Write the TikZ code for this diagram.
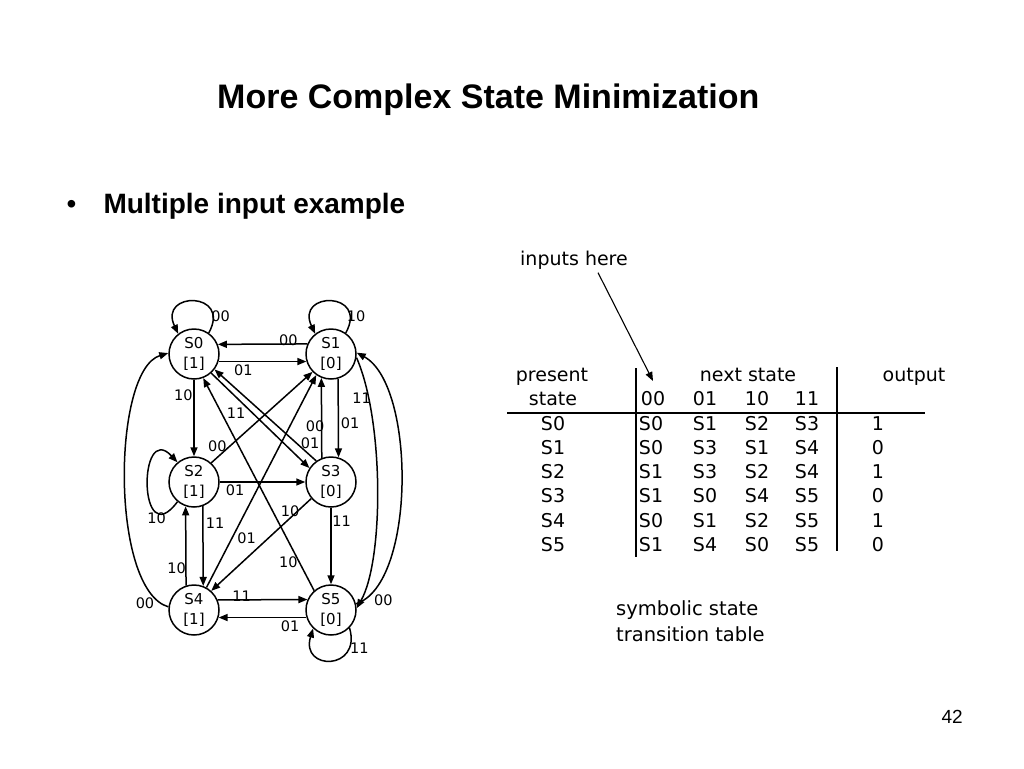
\documentclass[tikz,border=0pt]{standalone}
\usepackage{fontspec}
\setmainfont{DejaVu Sans}
\newfontfamily\arialfont{Liberation Sans}
\usetikzlibrary{arrows.meta,calc}
\begin{document}
\begin{tikzpicture}[x=1pt,y=-1pt,
  stnode/.style={draw,circle,line width=1.5pt,minimum size=50pt,inner sep=0pt,align=center,font=\fontsize{15}{19.5}\selectfont},
  lbl/.style={inner sep=0pt,font=\fontsize{14.5}{17}\selectfont},
  trans/.style={line width=1.5pt,-{Triangle[length=9pt,width=7pt]}},
  thinarrow/.style={line width=1.1pt,-{Triangle[length=9pt,width=7pt]}},
  tabtxt/.style={anchor=base,inner sep=0pt,font=\fontsize{19}{23}\selectfont},
  tabrule/.style={line width=2.7pt}]
\useasboundingbox (0,0) rectangle (1024,768);
\fill[white] (0,0) rectangle (1024,768);

% title and bullet
\node[anchor=base west,inner sep=0pt] (title) at (217,108.3) {\arialfont\bfseries\fontsize{34}{40}\selectfont More Complex State Minimization};
\node[anchor=base,inner sep=0pt] (bul) at (71.5,213.3) {\arialfont\fontsize{28}{32}\selectfont •};
\node[anchor=base west,inner sep=0pt] (btxt) at (103.3,213.3) {\arialfont\bfseries\fontsize{28}{32}\selectfont Multiple input example};

% states
\node[stnode] (S0) at (194,354) {S0\\{[1]}};
\node[stnode] (S1) at (331,354) {S1\\{[0]}};
\node[stnode] (S2) at (194,482) {S2\\{[1]}};
\node[stnode] (S3) at (331,482) {S3\\{[0]}};
\node[stnode] (S4) at (194,610) {S4\\{[1]}};
\node[stnode] (S5) at (331,610) {S5\\{[0]}};

% self loops
\draw[trans] (S0.55) .. controls (232,291) and (158,291) .. (S0.128);
\draw[trans] (S1.55) .. controls (369,291) and (295,291) .. (S1.128);
\draw[trans] (S2.230) .. controls (138,555) and (138,420) .. (S2.130);
\draw[trans] (S5.-44) .. controls (362,671) and (300,671) .. (S5.226);

% horizontal
\draw[trans] (S1.157.2) -- (S0.22.8);
\draw[trans] (S0.-17.9) -- (S1.197.9);
\draw[trans] (S2.east) -- (S3.west);
\draw[trans] (S4.23.6) -- (S5.156.4);
\draw[trans] (S5.197) -- (S4.-17);

% vertical
\draw[trans] (S0.south) -- (S2.north);
\draw[trans] (S3.111.1) -- (S1.248.9);
\draw[trans] (S1.286.3) -- (S3.73.7);
\draw[trans] (S2.290.4) -- (S4.69.6);
\draw[trans] (S4.108.7) -- (S2.251.3);
\draw[trans] (S3.south) -- (S5.north);

% diagonals
\draw[trans] (S0.-48.4) -- (S3.147.8);
\draw[trans] (S3.125.9) -- (S0.-37.3);
\draw[trans] (S2.48.9) -- (S1.224);
\draw[trans] (S4.61.4) -- (S1.235.7);
\draw[trans] (S5.131.6) -- (S0.-69.9);
\draw[trans] (S3.220.2) -- (S4.48.5);

% long curves
\draw[trans] (S4.173) .. controls (110,590) and (112,370) .. (S0.178);
\draw[trans] (S1.-8) .. controls (384,420) and (384,560) .. (S5.4);
\draw[trans] (S5.14) .. controls (416,585) and (416,385) .. (S1.3);

% edge labels
\node[lbl] (l1) at (220.7,316.7) {00};
\node[lbl] (l2) at (356,316.7) {10};
\node[lbl] (l3) at (288.3,340) {00};
\node[lbl] (l4) at (243.3,370.7) {01};
\node[lbl] (l5) at (183.3,395) {10};
\node[lbl] (l6) at (236,413.3) {11};
\node[lbl] (l7) at (361.7,398.3) {11};
\node[lbl] (l8) at (350,423.3) {01};
\node[lbl] (l9) at (315,426.7) {00};
\node[lbl] (l10) at (310,443.3) {01};
\node[lbl] (l11) at (217.3,446.7) {00};
\node[lbl] (l12) at (235,490) {01};
\node[lbl] (l13) at (156.7,518.3) {10};
\node[lbl] (l14) at (215,523.3) {11};
\node[lbl] (l15) at (290,511.7) {10};
\node[lbl] (l16) at (341.7,521.7) {11};
\node[lbl] (l17) at (246.7,538.3) {01};
\node[lbl] (l18) at (288.3,562.7) {10};
\node[lbl] (l19) at (176.7,568.3) {10};
\node[lbl] (l20) at (145,603.3) {00};
\node[lbl] (l21) at (241.7,596) {11};
\node[lbl] (l22) at (383.3,600) {00};
\node[lbl] (l23) at (290,626.7) {01};
\node[lbl] (l24) at (359.3,648.3) {11};

% inputs here
\node[tabtxt] (inp) at (574,265) {inputs here};
\coordinate (inpHead) at (653,381);
\draw[thinarrow] ([xshift=24pt,yshift=-3.5pt]inp.south) -- (inpHead);

% table
\draw[tabrule] (636,368) -- (636,557);
\draw[tabrule] (837,367) -- (837,551);
\draw[tabrule] (507,413) -- (925,413);
\node[tabtxt] (hp) at (552,381.7) {present};
\node[tabtxt] (hs) at (553,405) {state};
\node[tabtxt] (hn) at (748,381.7) {next state};
\node[tabtxt] (ho) at (914,381.7) {output};
\node[tabtxt] (h00) at (653,405) {00};
\node[tabtxt] (h01) at (705,405) {01};
\node[tabtxt] (h10) at (757,405) {10};
\node[tabtxt] (h11) at (807,405) {11};
\foreach \r/\a/\b/\c/\d/\o [count=\i from 0] in
  {S0/S0/S1/S2/S3/1, S1/S0/S3/S1/S4/0, S2/S1/S3/S2/S4/1,
   S3/S1/S0/S4/S5/0, S4/S0/S1/S2/S5/1, S5/S1/S4/S0/S5/0} {
  \node[tabtxt] (ps\i) at (553,430+24.3*\i) {\r};
  \node[tabtxt] (na\i) at (651,430+24.3*\i) {\a};
  \node[tabtxt] (nb\i) at (705,430+24.3*\i) {\b};
  \node[tabtxt] (nc\i) at (757,430+24.3*\i) {\c};
  \node[tabtxt] (nd\i) at (807,430+24.3*\i) {\d};
  \node[tabtxt] (out\i) at (878,430+24.3*\i) {\o};
}

\node[anchor=base west,inner sep=0pt,font=\fontsize{19.5}{23}\selectfont] (sym1) at (616,615) {symbolic state};
\node[anchor=base west,inner sep=0pt,font=\fontsize{19.5}{23}\selectfont] (sym2) at (616,641.7) {transition table};

\node[anchor=base east,inner sep=0pt] (pg) at (963,723) {\arialfont\fontsize{19}{23}\selectfont 42};
\end{tikzpicture}
\end{document}
